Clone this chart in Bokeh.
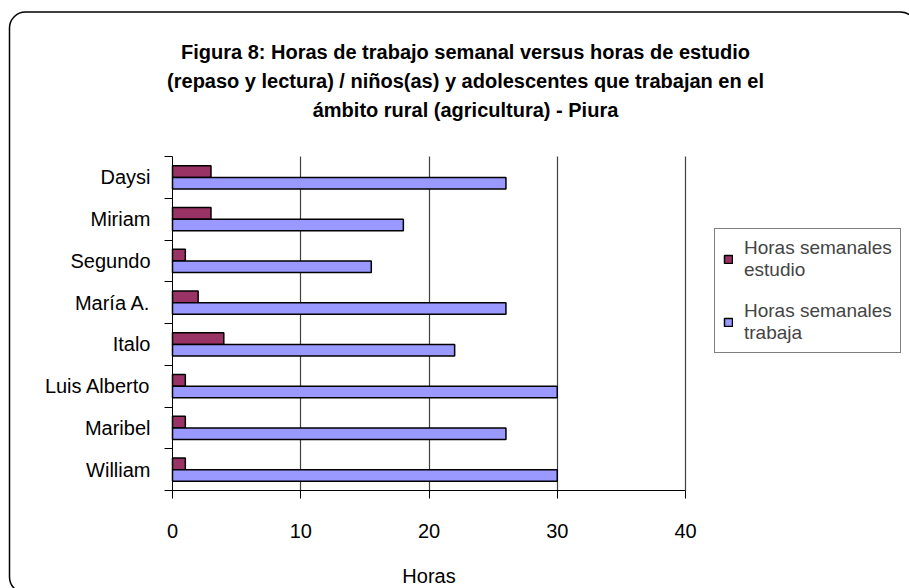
from urllib.parse import quote
from bokeh.plotting import figure
from bokeh.models import (Range1d, FixedTicker, Label, Legend, LegendItem,
                          ColumnDataSource)
from bokeh.embed import file_html
from bokeh.resources import INLINE

# ---- data ----
title_lines = [
    "Figura 8: Horas de trabajo semanal versus horas de estudio",
    "(repaso y lectura) / niños(as) y adolescentes que trabajan en el",
    "ámbito rural (agricultura) - Piura",
]
nombres = ["Daysi", "Miriam", "Segundo", "María A.", "Italo",
           "Luis Alberto", "Maribel", "William"]
horas_estudio = [3, 3, 1, 2, 4, 1, 1, 1]
horas_trabaja = [26, 18, 15.5, 26, 22, 30, 26, 30]
x_ticks = [0, 10, 20, 30, 40]
serie_estudio = "Horas semanales\nestudio"
serie_trabaja = "Horas semanales\ntrabaja"
x_label = "Horas"

# ---- layout constants (pixels) ----
W, H = 909, 588
PLOT_L, PLOT_R, PLOT_T, PLOT_B = 172, 685, 156, 490
FONT = "Liberation Sans"

n = len(nombres)
x_min, x_max = x_ticks[0], x_ticks[-1]
centers = [n - i - 0.5 for i in range(n)]
bar_h = 0.28

# the frame covers the whole canvas; the axes sit at the data origin and are
# bounded to the real plot area
px_per_x = (PLOT_R - PLOT_L) / (x_max - x_min)
px_per_y = (PLOT_B - PLOT_T) / n
x_range = Range1d(x_min - PLOT_L / px_per_x, x_min + (W - PLOT_L) / px_per_x)
y_range = Range1d(-(H - PLOT_B) / px_per_y, PLOT_B / px_per_y)

src = ColumnDataSource(dict(
    nombre=nombres,
    estudio=horas_estudio,
    trabaja=horas_trabaja,
    y_est=[c + bar_h / 2 for c in centers],
    y_tra=[c - bar_h / 2 for c in centers],
))

p = figure(width=W, height=H, output_backend="svg", toolbar_location=None,
           x_range=x_range, y_range=y_range,
           min_border_left=0, min_border_right=0,
           min_border_top=0, min_border_bottom=0)
p.outline_line_color = None
p.background_fill_alpha = 0
p.border_fill_alpha = 0

r_est = p.hbar(y="y_est", right="estudio", left=0, height=bar_h, source=src,
               fill_color="#993366", line_color="black", line_width=1.5)
r_tra = p.hbar(y="y_tra", right="trabaja", left=0, height=bar_h, source=src,
               fill_color="#9999FF", line_color="black", line_width=1.5)

# x axis
xa = p.xaxis[0]
xa.fixed_location = 0
xa.bounds = (x_min, x_max)
xa.ticker = FixedTicker(ticks=x_ticks)
xa.major_label_text_font = FONT
xa.major_label_text_font_size = "20px"
xa.major_label_text_color = "black"
xa.major_label_standoff = 25
xa.major_tick_in = 0
xa.major_tick_out = 8
xa.minor_tick_line_color = None
xa.axis_line_color = "black"
xa.major_tick_line_color = "black"

# y axis: labels at category centres, ticks at category boundaries
ya = p.yaxis[0]
ya.fixed_location = x_min
ya.bounds = (0, n)
ya.ticker = FixedTicker(ticks=centers, minor_ticks=list(range(n + 1)))
ya.major_label_overrides = {c: nm for c, nm in zip(centers, nombres)}
ya.major_label_text_font = FONT
ya.major_label_text_font_size = "20px"
ya.major_label_text_color = "black"
ya.major_label_standoff = 14
ya.major_tick_line_color = None
ya.major_tick_in = 0
ya.major_tick_out = 0
ya.minor_tick_in = 0
ya.minor_tick_out = 8
ya.minor_tick_line_color = "black"
ya.axis_line_color = "black"

xg = p.xgrid[0]
xg.ticker = FixedTicker(ticks=x_ticks[1:])
xg.grid_line_color = "#404040"
xg.grid_line_width = 1.2
if "cross_bounds" in xg.properties():
    xg.cross_bounds = (0, n)
p.ygrid.grid_line_color = None

# x axis title, centred under the 0..40 axis
p.add_layout(Label(x=(x_min + x_max) / 2, y=H - 575, x_units="data", y_units="screen",
                   text=x_label, text_align="center", text_baseline="middle",
                   text_font=FONT, text_font_size="20px", text_color="black"))

# legend
legend = Legend(items=[LegendItem(label=serie_estudio, renderers=[r_est]),
                       LegendItem(label=serie_trabaja, renderers=[r_tra])],
                location=(714, H - 353),
                glyph_width=10, glyph_height=10, label_standoff=11,
                padding=8, spacing=19, margin=0,
                label_text_font=FONT, label_text_font_size="19px",
                label_text_line_height=1.22,
                border_line_color="black", border_line_width=1,
                background_fill_color="white", background_fill_alpha=1)
p.add_layout(legend, "center")

# title lines (screen units, frame == canvas)
for i, t in enumerate(title_lines):
    p.add_layout(Label(x=465, y=H - 51 - 29 * i, x_units="screen", y_units="screen",
                       text=t, text_align="center", text_baseline="middle",
                       text_font=FONT, text_font_style="bold",
                       text_font_size="20px", text_color="black"))

# rounded chart-area border drawn behind the transparent canvas
svg = ("<svg xmlns='http://www.w3.org/2000/svg' width='909' height='588'>"
       "<rect x='9.5' y='12' width='907' height='581' rx='16' ry='16' "
       "fill='white' stroke='black' stroke-width='1.5'/></svg>")
p.styles = {"background-color": "white",
            "background-image": 'url("data:image/svg+xml,' + quote(svg) + '")',
            "background-repeat": "no-repeat"}

open("out.html", "w").write(file_html(p, INLINE))
